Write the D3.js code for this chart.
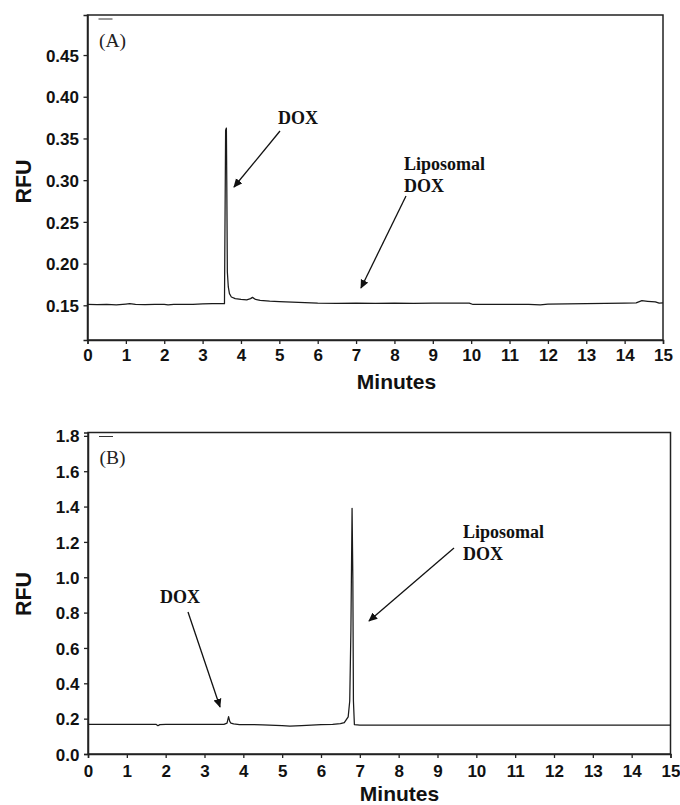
<!DOCTYPE html>
<html><head><meta charset="utf-8">
<script src="https://cdn.jsdelivr.net/npm/d3@7"></script>
<style>body{margin:0;background:#fff}svg{display:block}</style>
</head><body>
<script>
// ---- Data ----
const timeA = [0,0.25,0.5,0.75,1.0,1.1,1.25,1.5,1.75,2.0,2.1,2.25,2.5,2.75,3.0,3.25,3.5,3.57,3.60,3.62,3.63,3.645,3.67,3.70,3.75,3.85,4.0,4.15,4.25,4.30,4.38,4.5,4.75,5.0,5.5,6.0,6.5,7.0,7.5,8.0,8.5,9.0,9.5,9.95,10.05,10.5,11.0,11.5,11.8,12.0,12.5,13.0,13.5,14.0,14.3,14.45,14.6,14.8,14.9,15.0];
const rfuA  = [0.1512,0.1508,0.1512,0.1505,0.1515,0.152,0.151,0.1508,0.151,0.151,0.1505,0.151,0.1512,0.151,0.1518,0.152,0.152,0.152,0.36,0.3625,0.30,0.19,0.172,0.164,0.160,0.158,0.157,0.1565,0.158,0.1595,0.157,0.156,0.155,0.1545,0.1535,0.1525,0.1522,0.1527,0.1522,0.1525,0.1522,0.1525,0.1527,0.1527,0.151,0.151,0.1512,0.151,0.1505,0.1515,0.1518,0.152,0.1522,0.1527,0.153,0.1555,0.1548,0.154,0.1525,0.153];
const timeB = [0,0.5,1.0,1.5,1.75,1.8,1.85,2.0,2.5,3.0,3.5,3.58,3.62,3.65,3.68,3.75,3.9,4.2,4.5,5.0,5.2,5.5,6.0,6.3,6.5,6.6,6.7,6.74,6.77,6.80,6.82,6.835,6.86,7.0,8.0,9.0,10.0,11.0,12.0,13.0,14.0,15.0];
const rfuB  = [0.168,0.168,0.168,0.168,0.168,0.16,0.166,0.168,0.168,0.168,0.168,0.175,0.211,0.185,0.175,0.170,0.166,0.166,0.165,0.161,0.158,0.161,0.166,0.168,0.172,0.178,0.21,0.30,0.70,1.39,1.0,0.30,0.166,0.164,0.164,0.163,0.164,0.163,0.164,0.163,0.164,0.163];
const xTicks = [0,1,2,3,4,5,6,7,8,9,10,11,12,13,14,15];
const yTicksA = [0.15,0.20,0.25,0.30,0.35,0.40,0.45];
const yTicksB = [0.0,0.2,0.4,0.6,0.8,1.0,1.2,1.4,1.6,1.8];
const panelLabels = ["(A)","(B)"];
const xTitle = "Minutes", yTitle = "RFU";

const W = 680, H = 805;
const svg = d3.select("body").append("svg").attr("width",W).attr("height",H);

const sans = "Liberation Sans, Arial, sans-serif";
const serif = "Liberation Serif, Times New Roman, serif";

const defs = svg.append("defs");
defs.append("marker").attr("id","ah").attr("viewBox","0 0 10 10").attr("refX",9).attr("refY",5)
  .attr("markerWidth",9).attr("markerHeight",9).attr("markerUnits","userSpaceOnUse").attr("orient","auto")
  .append("path").attr("d","M0,0.5 L10,5 L0,9.5 Z").attr("fill","#111");

function panel(cfg){
  const g = svg.append("g");
  const x = d3.scaleLinear().domain([0,15]).range([cfg.left,cfg.right]);
  const y = d3.scaleLinear().domain(cfg.ydom).range([cfg.bottom,cfg.top]);
  // frame
  g.append("rect").attr("x",cfg.left).attr("y",cfg.top).attr("width",cfg.right-cfg.left).attr("height",cfg.bottom-cfg.top)
    .attr("fill","none").attr("stroke","#222").attr("stroke-width",1.5);
  const xa = g.append("g").attr("transform",`translate(0,${cfg.bottom})`)
    .call(d3.axisBottom(x).tickValues(xTicks).tickSize(4).tickPadding(4).tickFormat(d3.format("d")));
  const ya = g.append("g").attr("transform",`translate(${cfg.left},0)`)
    .call(d3.axisLeft(y).tickValues(cfg.yticks).tickSize(4).tickPadding(4).tickFormat(d3.format(cfg.fmt)));
  [xa,ya].forEach(a=>{
    a.select(".domain").attr("stroke","#222").attr("stroke-width",1.5);
    a.selectAll(".tick line").attr("stroke","#222").attr("stroke-width",1.3);
    a.selectAll("text").attr("font-family",sans).attr("font-weight","bold").attr("font-size",17).attr("fill","#111");
  });
  xa.selectAll("text").attr("dy",0).attr("y",cfg.xlabOff);
  ya.selectAll("text").attr("x",-8.5).attr("dy","0.36em");
  // titles
  g.append("text").attr("x",cfg.xtx).attr("y",cfg.xty).attr("text-anchor","middle")
    .attr("font-family",sans).attr("font-weight","bold").attr("font-size",21).attr("fill","#111").text(xTitle);
  g.append("text").attr("transform",`translate(${cfg.ytx},${cfg.yty}) rotate(-90)`).attr("text-anchor","middle")
    .attr("font-family",sans).attr("font-weight","bold").attr("font-size",21.5).attr("fill","#111").text(yTitle);
  // panel label and dash
  g.append("line").attr("x1",cfg.left+11).attr("x2",cfg.left+25).attr("y1",cfg.top+4).attr("y2",cfg.top+4).attr("stroke","#333").attr("stroke-width",1);
  g.append("text").attr("x",cfg.left+11.5).attr("y",cfg.top+31.5).attr("font-family",serif).attr("font-size",19.5).attr("fill","#222").text(cfg.label);
  // trace
  const line = d3.line().x((d,i)=>x(cfg.t[i])).y((d,i)=>y(cfg.v[i]));
  g.append("path").datum(cfg.v).attr("d",line).attr("fill","none").attr("stroke","#1a1a1a").attr("stroke-width",1.25).attr("stroke-linejoin","round");
  // annotations
  cfg.notes.forEach(n=>{
    const t = g.append("text").attr("x",n.tx).attr("y",n.ty).attr("font-family",serif).attr("font-weight","bold").attr("font-size",18).attr("fill","#111");
    n.lines.forEach((s,i)=>t.append("tspan").attr("x",n.tx).attr("dy",i?22:0).text(s));
    g.append("line").attr("x1",n.a[0]).attr("y1",n.a[1]).attr("x2",n.a[2]).attr("y2",n.a[3])
      .attr("stroke","#111").attr("stroke-width",1.3).attr("marker-end","url(#ah)");
  });
}

panel({left:87.5,right:663,top:15,bottom:340,ydom:[0.1084,0.498],yticks:yTicksA,fmt:".2f",t:timeA,v:rfuA,label:panelLabels[0],
  xlabOff:20.7,xtx:396.5,xty:389,ytx:30.5,yty:181.5,
  notes:[{lines:["DOX"],tx:278,ty:124,a:[280,131,234,187]},
         {lines:["Liposomal","DOX"],tx:404,ty:170,a:[406,196,361,288]}]});
panel({left:88,right:670.5,top:432.5,bottom:754,ydom:[0,1.819],yticks:yTicksB,fmt:".1f",t:timeB,v:rfuB,label:panelLabels[1],
  xlabOff:22.5,xtx:399.5,xty:801,ytx:30.5,yty:594,
  notes:[{lines:["DOX"],tx:160,ty:603,a:[188,612,220,707]},
         {lines:["Liposomal","DOX"],tx:463,ty:538,a:[454,548,369,621]}]});
</script>
</body></html>
